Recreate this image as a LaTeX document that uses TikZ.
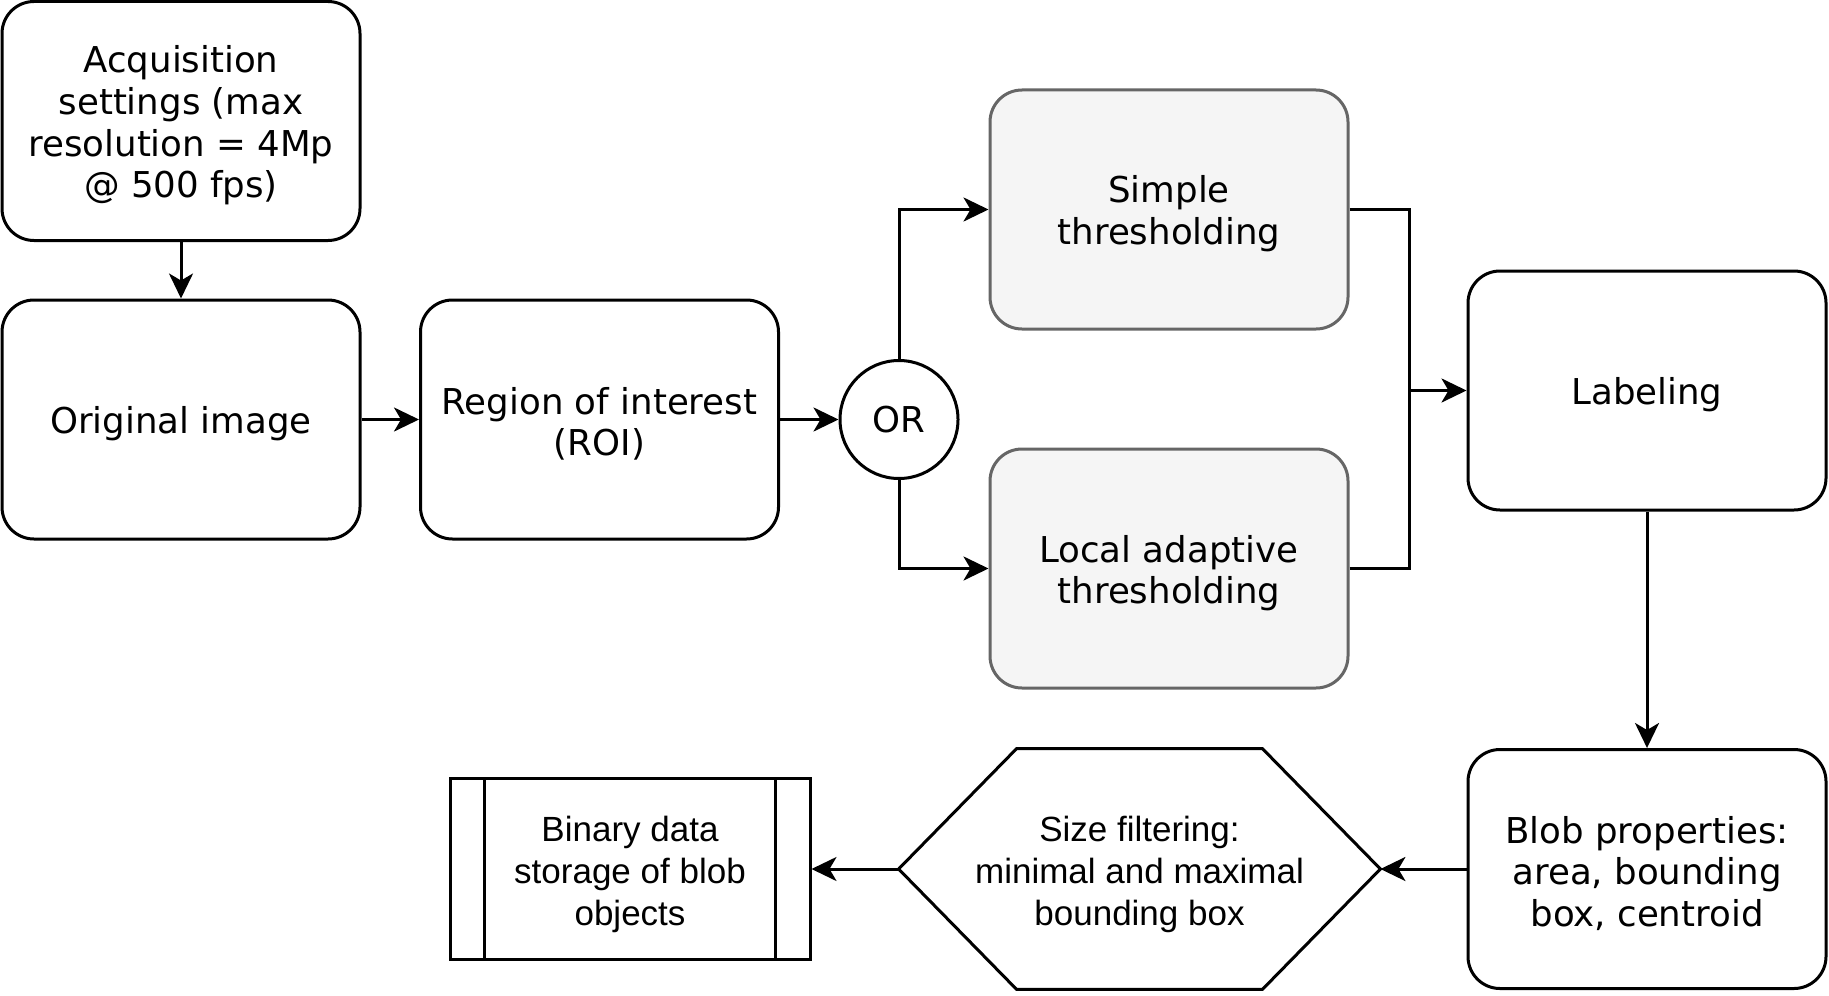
\documentclass[tikz,border=0pt]{standalone}
\usepackage{fontspec}
\setmainfont{DejaVu Sans}
\newfontfamily\helv{Liberation Sans}
\usetikzlibrary{calc,positioning,arrows.meta}
% extra room above the first line, so text sits a bit lower in its box
\newcommand\topgap{\rule{0pt}{18pt}}

\begin{document}
\begin{tikzpicture}[x=0.5pt,y=-0.5pt,
    box/.style={draw,line width=1.5pt,rounded corners=16pt,minimum width=179pt,minimum height=119.5pt,align=center,font=\fontsize{17.8}{20.8}\selectfont},
    greybox/.style={box,draw=black!60,fill=black!4},
    plain/.style={align=center,font=\helv\fontsize{17.5}{21}\selectfont},
    line/.style={line width=1.5pt},
    arr/.style={line width=1.5pt,-{Stealth[length=12.5pt,width=12pt,inset=3.5pt]}}]
  \useasboundingbox (0,0) rectangle (1829,995);

  % left column and ROI
  \node[box] (acq) at (181,121) {\topgap Acquisition\\settings (max\\resolution = 4Mp\\@ 500 fps)};
  \node[box] (orig) at (181,419.5) {\topgap Original image};
  \node[box] (roi) at (599.5,419.5) {\topgap Region of interest\\(ROI)};
  \node[draw,line width=1.5pt,circle,minimum size=59pt,font=\fontsize{17.8}{20.8}\selectfont] (or) at (899,419.5) {OR};

  % thresholding
  \node[greybox] (simple) at (1169,209.5) {\topgap Simple\\thresholding};
  \node[greybox] (local) at (1169,568.5) {\topgap Local adaptive\\thresholding};

  % right column
  \node[box] (label) at (1647,390.5) {\topgap Labeling};
  \node[box] (blob) at (1647,869) {\topgap Blob properties:\\area, bounding\\box, centroid};

  % bottom row
  \node[plain,minimum width=240.5pt,minimum height=120pt] (filter) at (1139.5,869) {\topgap Size filtering:\\minimal and maximal\\bounding box};
  \draw[line] (filter.west) -- ($(filter.north west)+(118,0)$) -- ($(filter.north east)+(-118,0)$)
    -- (filter.east) -- ($(filter.south east)+(-118,0)$) -- ($(filter.south west)+(118,0)$) -- cycle;
  \node[plain,draw,line width=1.5pt,minimum width=180pt,minimum height=90.5pt] (store) at (630,869) {\topgap Binary data\\storage of blob\\objects};
  \draw[line] ($(store.north west)+(36,0)$) -- ($(store.south west)+(36,0)$);
  \draw[line] ($(store.north east)+(-36,0)$) -- ($(store.south east)+(-36,0)$);

  % connectors
  \coordinate (join) at (1409,390.5);
  \draw[arr] (acq) -- (orig);
  \draw[arr] (orig) -- (roi);
  \draw[arr] (roi) -- (or);
  \draw[arr] (or) |- (simple);
  \draw[arr] (or) |- (local);
  \draw[line] (simple.east) -| (join);
  \draw[line] (local.east) -| (join);
  \draw[arr] (join) -- (label);
  \draw[arr] (label) -- (blob);
  \draw[arr] (blob) -- (filter);
  \draw[arr] (filter) -- (store);
\end{tikzpicture}
\end{document}
